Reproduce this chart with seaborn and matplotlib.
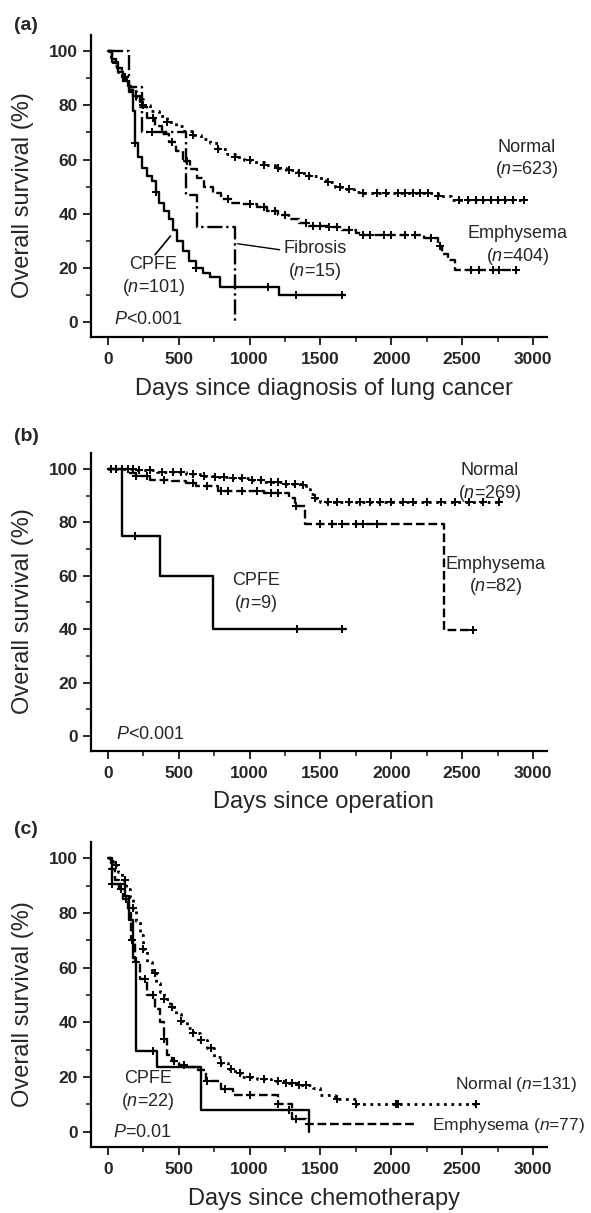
import numpy as np
import pandas as pd
import matplotlib
matplotlib.use("Agg")
import matplotlib.pyplot as plt
import seaborn as sns

# ---------------- data ----------------
# Panel (a): days since diagnosis of lung cancer
a_normal_t = [0, 20, 40, 70, 100, 130, 160, 200, 250, 300, 360, 420, 480, 540, 600, 660, 720, 780, 840, 900,
              960, 1020, 1100, 1180, 1260, 1340, 1420, 1480, 1540, 1600, 1660, 1740, 1800, 2330, 2420, 2933]
a_normal_s = [100, 97, 94.5, 92.5, 90.5, 88, 85.5, 82.5, 80, 78, 76, 74, 72.5, 70.5, 69, 67.5, 66, 64, 62, 61,
              60, 59, 58, 57, 56, 55, 54, 53, 51.5, 50, 49, 48, 47.5, 46.5, 45, 45]
a_normal_c = [120, 250, 420, 600, 780, 900, 1000, 1100, 1200, 1280, 1350, 1420, 1550, 1640, 1700, 1800, 1900,
              1960, 2050, 2100, 2150, 2200, 2260, 2330, 2480, 2540, 2600, 2650, 2700, 2750, 2800, 2860, 2933]

a_emph_t = [0, 30, 60, 100, 140, 180, 230, 280, 330, 380, 430, 480, 530, 580, 630, 680, 740, 800, 870, 950,
            1050, 1120, 1200, 1280, 1350, 1420, 1550, 1650, 1750, 1800, 2230, 2330, 2360, 2400, 2450, 2880]
a_emph_s = [100, 97, 94, 90.5, 87, 83.5, 79.5, 75.5, 72.5, 69.5, 66.5, 63, 59.5, 56.5, 53, 50, 47.5, 45.5, 44,
            43.5, 42.5, 41, 39.5, 38, 36.5, 35.5, 35, 34, 33, 32.2, 31, 28, 25, 22.8, 19, 19]
a_emph_c = [200, 320, 450, 560, 850, 1000, 1100, 1180, 1250, 1400, 1450, 1500, 1560, 1620, 1700, 1800, 1850,
            1950, 2000, 2100, 2170, 2280, 2340, 2560, 2620, 2720, 2760, 2880]

a_cpfe_t = [0, 30, 70, 110, 150, 175, 190, 215, 245, 280, 310, 340, 365, 400, 430, 460, 490, 530, 570, 620,
            670, 720, 790, 1210, 1674]
a_cpfe_s = [100, 96, 92.5, 89, 85, 78, 66, 61, 57, 54, 52, 48, 44, 41, 38, 34, 30, 26, 22.5, 20, 18, 16.5,
            13, 10, 10]
a_cpfe_c = [190, 340, 620, 1130, 1330, 1650]

a_fib_t = [0, 147, 240, 549, 630, 897]
a_fib_s = [100, 86.7, 70, 46.7, 35, 0]
a_fib_c = [310]

# Panel (b): days since operation
b_normal_t = [0, 200, 350, 450, 550, 650, 750, 850, 1000, 1100, 1250, 1360, 1400, 1430, 1460, 1500, 2761]
b_normal_s = [100, 99.5, 99, 98.8, 98.2, 97.5, 97, 96.5, 96, 95, 94.5, 94, 92.5, 90.5, 89, 87.5, 87.5]
b_normal_c = [20, 60, 100, 140, 180, 220, 300, 380, 460, 520, 600, 680, 760, 820, 880, 950, 1020, 1080, 1150,
              1200, 1260, 1320, 1380, 1460, 1550, 1620, 1700, 1780, 1850, 1920, 2000, 2080, 2150, 2250, 2350,
              2450, 2550, 2650, 2761]

b_emph_t = [0, 150, 200, 300, 450, 550, 620, 780, 1100, 1280, 1320, 1390, 2375, 2574]
b_emph_s = [100, 98.5, 97.5, 96, 95.5, 94.8, 93.5, 91.7, 91, 89.2, 86, 79.3, 39.6, 39.6]
b_emph_c = [20, 60, 200, 280, 400, 600, 700, 800, 850, 950, 1050, 1150, 1200, 1330, 1500, 1580, 1650, 1750,
            1800, 1900, 2574]

b_cpfe_t = [0, 101, 367, 739, 1678]
b_cpfe_s = [100, 75, 60, 40, 40]
b_cpfe_c = [194, 1338, 1652]

# Panel (c): days since chemotherapy
c_normal_t = [0, 20, 40, 70, 100, 130, 160, 180, 200, 225, 250, 280, 310, 340, 370, 400, 440, 480, 520, 560,
              600, 650, 700, 750, 800, 850, 900, 950, 1050, 1150, 1250, 1350, 1450, 1500, 1600, 1750, 2598]
c_normal_s = [100, 99, 97.5, 95, 92, 89, 86, 82, 77, 72, 67, 62, 58, 54.5, 51, 48.5, 45.5, 43, 40.5, 38, 36,
              33.5, 30.5, 27.5, 25, 23, 21.5, 20, 19.2, 18.5, 17.8, 17, 16, 13.5, 12, 10, 10]
c_normal_c = [60, 120, 180, 250, 330, 400, 450, 520, 600, 660, 730, 800, 870, 930, 1000, 1100, 1200, 1260,
              1300, 1350, 1400, 1620, 1750, 2030, 2050, 2598]

c_emph_t = [0, 20, 50, 80, 110, 140, 165, 190, 230, 280, 330, 370, 395, 415, 450, 500, 560, 640, 690, 800,
            880, 1200, 1300, 1400, 2183]
c_emph_s = [100, 96, 92, 89, 85, 80, 70, 62, 56, 50, 45, 40, 34, 28, 26, 24.5, 23.5, 22.5, 18.5, 15.5, 13.5,
            10.3, 4.5, 3, 3]
c_emph_c = [30, 90, 130, 170, 200, 260, 320, 400, 470, 540, 700, 830, 1000, 1200, 1330]

c_cpfe_t = [0, 27, 121, 150, 175, 196, 348, 656, 1420]
c_cpfe_s = [100, 90.5, 86.4, 77.3, 63.6, 29.6, 23.5, 7.8, 0]
c_cpfe_c = [30, 320, 1280]

xticks = [0, 500, 1000, 1500, 2000, 2500, 3000]
yticks = [0, 20, 40, 60, 80, 100]

# ---------------- style ----------------
sns.set_theme(style="ticks")
plt.rcParams["font.family"] = ["Liberation Sans", "DejaVu Sans"]
plt.rcParams["mathtext.fontset"] = "custom"
plt.rcParams["mathtext.rm"] = "Liberation Sans"
plt.rcParams["mathtext.it"] = "Liberation Sans:italic"
plt.rcParams["mathtext.bf"] = "Liberation Sans:bold"

fig = plt.figure(figsize=(5.91, 12.13), dpi=100)

ax_pos = [
    [0.154, 0.7222, 0.772, 0.2489],
    [0.154, 0.3809, 0.772, 0.2457],
    [0.154, 0.0544, 0.772, 0.2514],
]
axes = [fig.add_axes(p) for p in ax_pos]


def step_lookup(t, s, c):
    t = np.asarray(t)
    s = np.asarray(s)
    idx = np.searchsorted(t, np.asarray(c), side="right") - 1
    return s[idx]


def km(ax, t, s, c, ls, lw=1.7):
    df = pd.DataFrame({"t": t, "s": s})
    sns.lineplot(data=df, x="t", y="s", drawstyle="steps-post", estimator=None, sort=False,
                 color="black", linestyle=ls, linewidth=lw, ax=ax)
    if c:
        cdf = pd.DataFrame({"t": c, "s": step_lookup(t, s, c)})
        sns.scatterplot(data=cdf, x="t", y="s", marker="+", s=38, color="black",
                        linewidth=1.4, ax=ax, zorder=4)


def style_axes(ax, xlabel):
    ax.set_xlim(-118, 3100)
    ax.set_ylim(-5.6, 106)
    ax.set_xticks(xticks)
    ax.set_yticks(yticks)
    ax.set_xticks([250, 750, 1250, 1750, 2250, 2750], minor=True)
    ax.set_yticks([10, 30, 50, 70, 90], minor=True)
    ax.tick_params(which="major", direction="out", length=6, width=1.4, labelsize=12.5)
    ax.tick_params(axis="x", which="major", pad=5)
    ax.tick_params(which="minor", direction="out", length=3.5, width=1.2)
    for lab in ax.get_xticklabels() + ax.get_yticklabels():
        lab.set_fontweight("bold")
    sns.despine(ax=ax)
    for sp in ["left", "bottom"]:
        ax.spines[sp].set_linewidth(1.6)
        ax.spines[sp].set_color("black")
    ax.set_xlabel(xlabel, fontsize=17)
    ax.set_ylabel("Overall survival (%)", fontsize=17)
    ax.xaxis.set_label_coords(0.51, -0.135)
    ax.yaxis.set_label_coords(-0.125, 0.47)


ann = dict(fontsize=13, ha="center", va="center", linespacing=1.25)

# ---- (a)
ax = axes[0]
km(ax, a_normal_t, a_normal_s, a_normal_c, ":", 2.0)
km(ax, a_emph_t, a_emph_s, a_emph_c, "--")
km(ax, a_cpfe_t, a_cpfe_s, a_cpfe_c, "-")
km(ax, a_fib_t, a_fib_s, a_fib_c, "-.")
style_axes(ax, "Days since diagnosis of lung cancer")
ax.text(2957, 60, "Normal\n($n$=623)", **ann)
ax.text(2893, 28, "Emphysema\n($n$=404)", **ann)
ax.text(1460, 22.5, "Fibrosis\n($n$=15)", **ann)
ax.text(321, 16.5, "CPFE\n($n$=101)", **ann)
ax.annotate("", xy=(455, 32.5), xytext=(321, 24),
            arrowprops=dict(arrowstyle="-", color="black", lw=1.2))
ax.annotate("", xy=(897, 29), xytext=(1232, 26.5),
            arrowprops=dict(arrowstyle="-", color="black", lw=1.0))
ax.text(42, 1.0, "$P$<0.001", fontsize=13, ha="left", va="center")
fig.text(0.024, 0.979, "(a)", fontsize=14, fontweight="bold", ha="left", va="center")

# ---- (b)
ax = axes[1]
km(ax, b_normal_t, b_normal_s, b_normal_c, ":", 2.0)
km(ax, b_emph_t, b_emph_s, b_emph_c, "--")
km(ax, b_cpfe_t, b_cpfe_s, b_cpfe_c, "-")
style_axes(ax, "Days since operation")
ax.text(2694, 94.7, "Normal\n($n$=269)", **ann)
ax.text(2734, 59.7, "Emphysema\n($n$=82)", **ann)
ax.text(1045, 53.5, "CPFE\n($n$=9)", **ann)
ax.text(61, 0.6, "$P$<0.001", fontsize=13, ha="left", va="center")
fig.text(0.024, 0.64, "(b)", fontsize=14, fontweight="bold", ha="left", va="center")

# ---- (c)
ax = axes[2]
km(ax, c_normal_t, c_normal_s, c_normal_c, ":", 2.0)
km(ax, c_emph_t, c_emph_s, c_emph_c, "--")
km(ax, c_cpfe_t, c_cpfe_s, c_cpfe_c, "-")
style_axes(ax, "Days since chemotherapy")
ax.text(3310, 17.4, "Normal ($n$=131)", fontsize=12.5, ha="right", va="center")
ax.text(3370, 2.2, "Emphysema ($n$=77)", fontsize=12.5, ha="right", va="center")
ax.text(281, 15, "CPFE\n($n$=22)", **ann)
ax.text(40, -0.2, "$P$=0.01", fontsize=13, ha="left", va="center")
fig.text(0.024, 0.316, "(c)", fontsize=14, fontweight="bold", ha="left", va="center")

fig.savefig("out.png", dpi=100, facecolor="white")
